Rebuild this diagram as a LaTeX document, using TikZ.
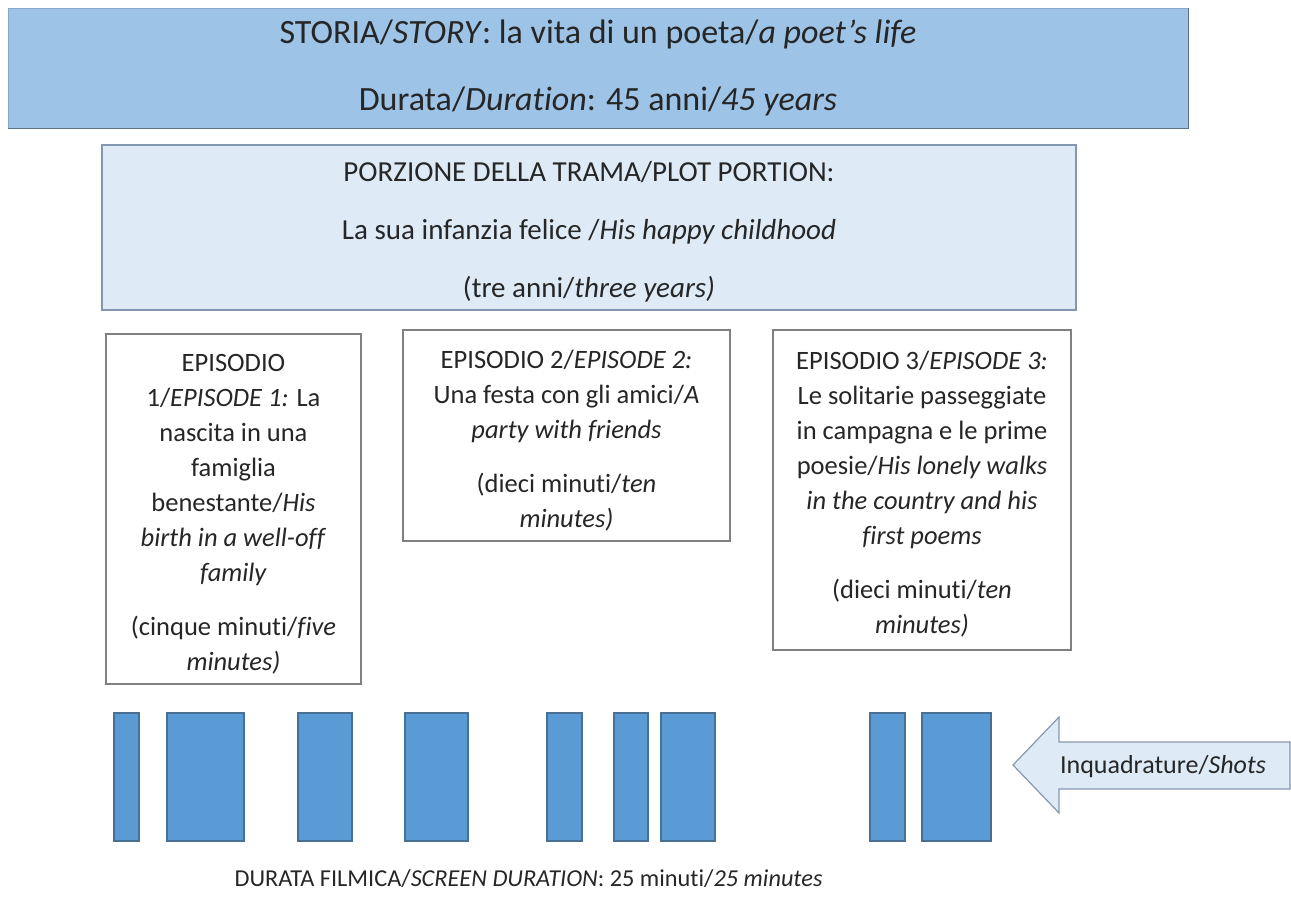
\documentclass[tikz,border=0pt]{standalone}
\usepackage{fontspec}
\setmainfont[Ligatures={NoCommon}]{Carlito}
\definecolor{storyfill}{HTML}{9DC3E6}
\definecolor{storyline}{HTML}{8AAACB}
\definecolor{storyshade}{HTML}{5E7186}
\definecolor{plotfill}{HTML}{DEEBF7}
\definecolor{plotline}{HTML}{8497B0}
\definecolor{epline}{HTML}{808080}
\definecolor{barfill}{HTML}{5B9BD5}
\definecolor{barline}{HTML}{4A6F94}
\definecolor{txt}{HTML}{262626}
\begin{document}
\begin{tikzpicture}[x=1pt,y=-1pt,
  every node/.style={text=txt},
  storybox/.style={draw=storyline, line width=1pt, fill=storyfill, inner sep=0pt},
  plotbox/.style={draw=plotline, line width=1.2pt, fill=plotfill, inner sep=0pt},
  epbox/.style={draw=epline, line width=1.2pt, fill=white, inner sep=0pt},
  storytext/.style={inner sep=0pt, align=center, font=\fontsize{34}{67}\selectfont},
  plottext/.style={inner sep=0pt, align=center, font=\fontsize{29}{58}\selectfont},
  eptext/.style={inner sep=0pt, align=center, font=\fontsize{26.5}{35}\selectfont},
  shotbar/.style={draw=barline, line width=1.2pt, fill=barfill},
  shotarrow/.style={draw=plotline, line width=1.2pt, fill=plotfill, line join=miter},
  lbl/.style={inner sep=0pt, align=center}
]
\useasboundingbox (0,0) rectangle (1291,906);

% story
\node[storybox, minimum width=1180pt, minimum height=120pt] (story) at (598,68) {};
\draw[storyshade, line width=1.6pt] (story.south west) -- (story.south east) -- (story.north east);
\node[storytext] (storyt) at (story.center)
  {STORIA/\textit{STORY}: la vita di un poeta/\textit{a poet’s life}\\
   Durata/\textit{Duration}: 45 anni/\textit{45 years}};

% plot portion
\node[plotbox, minimum width=974pt, minimum height=165pt] (plot) at (589,227.5) {};
\node[plottext] (plott) at ([yshift=-4pt]plot.center)
  {PORZIONE DELLA TRAMA/PLOT PORTION:\\
   La sua infanzia felice /\textit{His happy childhood}\\
   (tre anni/\textit{three years)}};

% episodes
\node[epbox, minimum width=255pt, minimum height=350pt] (ep1) at (233.5,509) {};
\node[eptext] (ep1t) at ([yshift=-5pt]ep1.center)
  {EPISODIO\\
   1/\textit{EPISODE 1:} La\\
   nascita in una\\
   famiglia\\
   benestante/\textit{His}\\
   \textit{birth in a well-off}\\
   \textit{family}\\[19pt]
   (cinque minuti/\textit{five}\\
   \textit{minutes)}};

\node[epbox, minimum width=327pt, minimum height=211pt] (ep2) at (566.5,435.5) {};
\node[eptext] (ep2t) at ([yshift=-5pt]ep2.center)
  {EPISODIO 2/\textit{EPISODE 2:}\\
   Una festa con gli amici/\textit{A}\\
   \textit{party with friends}\\[19pt]
   (dieci minuti/\textit{ten}\\
   \textit{minutes)}};

\node[epbox, minimum width=298pt, minimum height=320pt] (ep3) at (922,490) {};
\node[eptext] (ep3t) at ([yshift=-4pt]ep3.center)
  {EPISODIO 3/\textit{EPISODE 3:}\\
   Le solitarie passeggiate\\
   in campagna e le prime\\
   poesie/\textit{His lonely walks}\\
   \textit{in the country and his}\\
   \textit{first poems}\\[19pt]
   (dieci minuti/\textit{ten}\\
   \textit{minutes)}};

% shots
\draw[shotbar] (114,713) rectangle (139,841);
\draw[shotbar] (167,713) rectangle (244,841);
\draw[shotbar] (298,713) rectangle (352,841);
\draw[shotbar] (405,713) rectangle (468,841);
\draw[shotbar] (547,713) rectangle (582,841);
\draw[shotbar] (614,713) rectangle (648,841);
\draw[shotbar] (661,713) rectangle (715,841);
\draw[shotbar] (870,713) rectangle (905,841);
\draw[shotbar] (922,713) rectangle (991,841);

% arrow
\draw[shotarrow] (1013,765) -- (1059,717) -- (1059,742) -- (1290,742) -- (1290,789)
  -- (1059,789) -- (1059,813) -- cycle;
\node[lbl, font=\fontsize{26}{30}\selectfont] (shots) at (1163,767) {Inquadrature/\textit{Shots}};

% screen duration
\node[lbl, font=\fontsize{24.3}{30}\selectfont] (screen) at (528.5,879)
  {DURATA FILMICA/\textit{SCREEN DURATION}: 25 minuti/\textit{25 minutes}};
\end{tikzpicture}
\end{document}
